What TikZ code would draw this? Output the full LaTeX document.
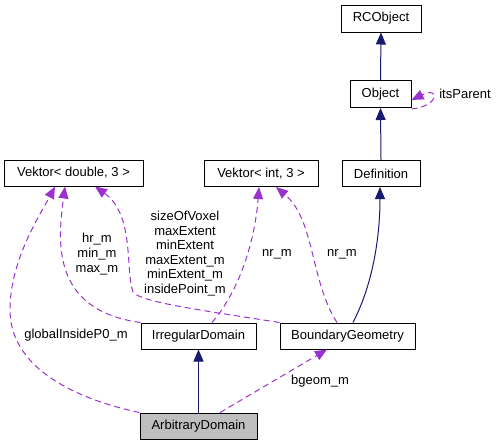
\documentclass[tikz,border=0pt]{standalone}
\usepackage{fontspec}
\setmainfont{Liberation Sans}
\usetikzlibrary{arrows.meta}
\definecolor{inhcol}{HTML}{191970}
\definecolor{usecol}{HTML}{9A32CD}
\definecolor{boxgray}{HTML}{BFBFBF}
\tikzset{
  cls/.style={draw=black, line width=1pt, fill=white, inner sep=0pt, minimum height=26pt, font=\fontsize{13}{15}\selectfont},
  inh/.style={draw=inhcol, line width=1pt, -{Triangle[length=12pt,width=10pt]}, inhcol},
  use/.style={draw=usecol, line width=1pt, dash pattern=on 6pt off 4pt, -{Triangle[length=12pt,width=10pt]}, usecol},
  lbl/.style={inner sep=0pt, align=center, font=\fontsize{13}{14.6}\selectfont}
}
\begin{document}
\begin{tikzpicture}[x=1pt,y=-1pt]
\useasboundingbox (0,0) rectangle (497,445);
\node[cls, minimum width=80pt, minimum height=27pt] (rc) at (381,18.5) {RCObject};
\node[cls, minimum width=61pt, minimum height=27pt] (ob) at (380.5,94) {Object};
\node[cls, minimum width=78pt] (def) at (381,173.5) {Definition};
\node[cls, minimum width=139pt] (vd) at (73.5,173) {Vektor< double, 3 >};
\node[cls, minimum width=114pt] (vi) at (261,173.5) {Vektor< int, 3 >};
\node[cls, minimum width=115pt] (ir) at (198.5,336) {IrregularDomain};
\node[cls, minimum width=135pt] (bg) at (347.5,336) {BoundaryGeometry};
\node[cls, minimum width=117pt, fill=boxgray] (ad) at (198.5,426) {ArbitraryDomain};

% inheritance
\draw[inh] (ob.north) -- (rc.south);
\draw[inh] (def.north) -- (ob.south);
\draw[inh] (ad.north) -- (ir.south);
\draw[inh] ([xshift=5.5pt]bg.north) .. controls (375,280) and (380,230) .. ([xshift=-1pt]def.south);

% usage
\draw[use] ([yshift=-1pt]ob.south east) .. controls (440,106) and (440,86) .. ([yshift=-6pt]ob.east);
\node[lbl] (lp) at (465,94) {itsParent};

\draw[use] (ad.north west) .. controls (80,400) and (10,370) .. (10,310) .. controls (10,260) and (40,215) .. ([xshift=-18.5pt]vd.south);
\node[lbl] (lg) at (76,335) {globalInsideP0\_m};

\draw[use] (ir.north west) .. controls (50,310) and (58,240) .. ([xshift=-8.5pt]vd.south);
\node[lbl] (lh) at (97,254) {hr\_m\\min\_m\\max\_m};

\draw[use] (bg.north west) .. controls (200,310) and (140,302) .. (133,292) .. controls (125,270) and (135,215) .. ([xshift=21.5pt]vd.south);
\node[lbl] (ls) at (185,253.5) {sizeOfVoxel\\maxExtent\\minExtent\\maxExtent\_m\\minExtent\_m\\insidePoint\_m};

\draw[use] ([xshift=13.5pt]ir.north) .. controls (240,290) and (255,240) .. ([xshift=-2pt]vi.south);
\node[lbl] (ln1) at (277,254) {nr\_m};

\draw[use] ([xshift=-10.5pt]bg.north) .. controls (310,280) and (315,220) .. ([xshift=15pt]vi.south);
\node[lbl] (ln2) at (342,254) {nr\_m};

\draw[use] ([xshift=21.5pt]ad.north) -- ([xshift=-20.5pt]bg.south);
\node[lbl] (lb) at (320,381) {bgeom\_m};
\end{tikzpicture}
\end{document}
